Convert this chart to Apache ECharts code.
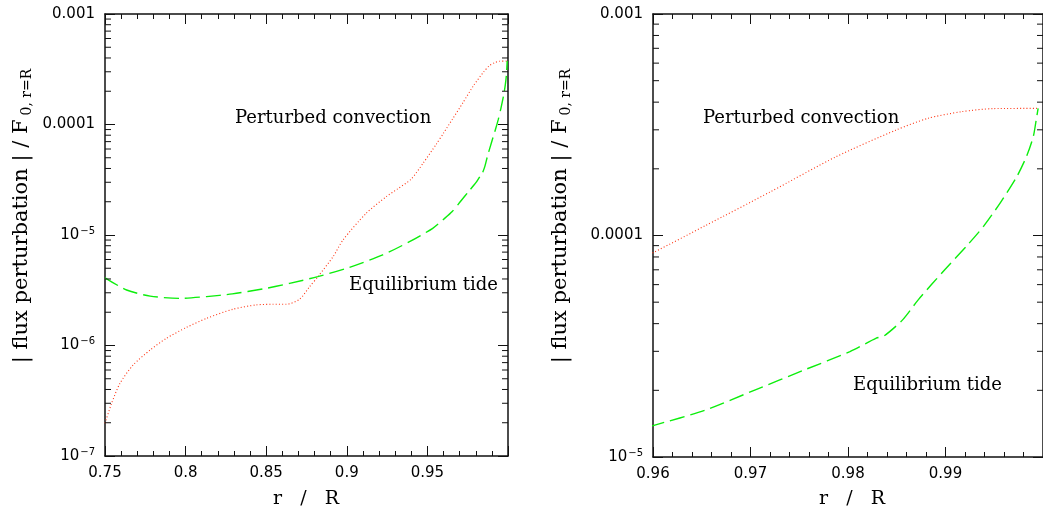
<!DOCTYPE html>
<html><head><meta charset="utf-8">
<script src="https://cdn.jsdelivr.net/npm/echarts@6/dist/echarts.min.js"></script>
<style>html,body{margin:0;padding:0;background:#fff}#c{width:1043px;height:514px}</style>
</head><body><div id="c"></div>
<script>
// ---- data ----
const convR = [0.75, 0.7541, 0.7593, 0.7675, 0.778, 0.788, 0.8006, 0.813, 0.8294, 0.8439, 0.8542, 0.8625, 0.8707, 0.8769, 0.8821, 0.8916, 0.8976, 0.912, 0.9244, 0.9316, 0.9399, 0.9475, 0.9554, 0.9601, 0.9654, 0.9721, 0.9788, 0.9849, 0.9882, 0.9916, 0.9949, 0.9993, 0.9995];
const convV = [1.98e-7, 3.0e-7, 4.55e-7, 6.67e-7, 9.1e-7, 1.16e-6, 1.46e-6, 1.76e-6, 2.13e-6, 2.33e-6, 2.36e-6, 2.36e-6, 2.62e-6, 3.4e-6, 4.2e-6, 6.4e-6, 9.0e-6, 1.57e-5, 2.22e-5, 2.62e-5, 3.2e-5, 4.5e-5, 6.6e-5, 8.4e-5, 1.11e-4, 1.58e-4, 2.27e-4, 2.99e-4, 3.38e-4, 3.62e-4, 3.74e-4, 3.75e-4, 3.76e-4];
const tideR = [0.75, 0.7634, 0.778, 0.7964, 0.813, 0.829, 0.848, 0.8645, 0.882, 0.9017, 0.9223, 0.9389, 0.9533, 0.9601, 0.9654, 0.9705, 0.9755, 0.9802, 0.9829, 0.9837, 0.9856, 0.9872, 0.9899, 0.9923, 0.9939, 0.9956, 0.9973, 0.9983, 0.999, 0.9993, 0.9995];
const tideV = [4.1e-6, 3.18e-6, 2.8e-6, 2.67e-6, 2.77e-6, 2.93e-6, 3.25e-6, 3.65e-6, 4.2e-6, 5.1e-6, 6.6e-6, 8.7e-6, 1.15e-5, 1.39e-5, 1.63e-5, 2.01e-5, 2.47e-5, 2.99e-5, 3.44e-5, 3.52e-5, 4.16e-5, 5.12e-5, 6.99e-5, 9.1e-5, 1.10e-4, 1.40e-4, 1.84e-4, 2.27e-4, 2.79e-4, 3.32e-4, 3.75e-4];

const leftXTicks = [0.75, 0.8, 0.85, 0.9, 0.95];
const rightXTicks = [0.96, 0.97, 0.98, 0.99];
const leftXRange = [0.75, 1.0];
const rightXRange = [0.96, 1.0];
const leftYRange = [1e-7, 1e-3];
const rightYRange = [1e-5, 1e-3];
const minorMult = [2, 3, 4, 5, 6, 7, 8, 9];

const labelConv = 'Perturbed convection';
const labelTide = 'Equilibrium tide';
const xTitle = 'r   /   R';
const yTitleMain = '| flux perturbation | / F';
const yTitleSub = '0, r=R';

// ---- chart ----
const chart = echarts.init(document.getElementById('c'), null, {renderer: 'canvas'});
const AX = '#111';
const tickFont = {fontFamily: 'DejaVu Sans', fontSize: 15, color: '#000'};

function yFmt(v) {
  const e = Math.round(Math.log10(v));
  if (e >= -4) return e === -3 ? '0.001' : '0.0001';
  return '10{sup|\u2212' + (-e) + '}';
}
function xFmt(ticks) {
  return function (v) {
    for (const t of ticks) if (Math.abs(t - v) < 1e-9) return String(t);
    return '';
  };
}
function minorData(range, x0) {
  const out = [];
  const e0 = Math.round(Math.log10(range[0])), e1 = Math.round(Math.log10(range[1]));
  for (let e = e0; e < e1; e++) for (const m of minorMult) out.push([x0, m * Math.pow(10, e)]);
  return out;
}
function mkX(grid, range, ticks, interval, pos) {
  return {
    type: 'value', gridIndex: grid, min: range[0], max: range[1], interval: interval, position: pos,
    axisLine: {show: true, onZero: false, lineStyle: {color: AX, width: 1.5}},
    axisTick: {show: true, inside: true, length: 10, lineStyle: {color: AX, width: 1}},
    minorTick: {show: true, splitNumber: 5, length: 5, lineStyle: {color: AX, width: 1}},
    splitLine: {show: false}, minorSplitLine: {show: false},
    axisLabel: pos === 'bottom' ? Object.assign({show: true, margin: 10, formatter: xFmt(ticks), showMaxLabel: false}, tickFont) : {show: false}
  };
}
function mkY(grid, range, pos) {
  return {
    type: 'log', logBase: 10, gridIndex: grid, min: range[0], max: range[1], position: pos,
    axisLine: {show: true, onZero: false, lineStyle: {color: AX, width: 1.5}},
    axisTick: {show: true, inside: true, length: 10, lineStyle: {color: AX, width: 1}},
    splitLine: {show: false},
    axisLabel: pos === 'left' ? Object.assign({show: true, margin: 10, formatter: yFmt,
      rich: {sup: {fontFamily: 'DejaVu Sans', fontSize: 10, verticalAlign: 'top', padding: [0, 0, 8, 1], color: '#000'}}}, tickFont) : {show: false}
  };
}
function lineSeries(xi, yi, R, V, color, dash, width) {
  return {
    type: 'line', xAxisIndex: xi, yAxisIndex: yi, showSymbol: false, symbol: 'none', smooth: 0.25,
    data: R.map((r, i) => [r, V[i]]), clip: true, silent: true,
    lineStyle: {color: color, width: width, type: dash}
  };
}
function minorSeries(xi, yi, xRange, yRange) {
  return {
    type: 'custom', xAxisIndex: xi, yAxisIndex: yi, silent: true, z: 5,
    data: minorData(yRange, xRange[0]),
    renderItem: function (params, api) {
      const v = api.value(1);
      const a = api.coord([xRange[0], v]);
      const b = api.coord([xRange[1], v]);
      return {type: 'group', children: [
        {type: 'line', shape: {x1: a[0], y1: a[1], x2: a[0] + 6, y2: a[1]}, style: {stroke: AX, lineWidth: 1}},
        {type: 'line', shape: {x1: b[0], y1: b[1], x2: b[0] - 6, y2: b[1]}, style: {stroke: AX, lineWidth: 1}}
      ]};
    }
  };
}
const RED = '#ff3311', GREEN = '#0cee0c';
const DOT = [1, 2.2], DASH = [15, 6];

function txt(x, y, s, size, align) {
  return {type: 'text', x: x, y: y, z: 10, style: {text: s, fontFamily: 'DejaVu Serif', fontSize: size, fill: '#000',
    align: align || 'left', verticalAlign: 'middle', textAlign: align || 'left', textVerticalAlign: 'middle'}};
}
function ytitle(x, y) {
  return {type: 'text', x: x, y: y, rotation: Math.PI / 2, z: 10,
    style: {text: yTitleMain + '{sub|' + yTitleSub + '}', fontFamily: 'DejaVu Serif', fontSize: 21, fill: '#000',
      align: 'center', verticalAlign: 'middle', textAlign: 'center', textVerticalAlign: 'middle',
      rich: {sub: {fontFamily: 'DejaVu Serif', fontSize: 14, fill: '#000', color: '#000', verticalAlign: 'bottom', padding: [10, 0, 0, 4]}}}};
}

const option = {
  animation: false,
  backgroundColor: '#fff',
  grid: [
    {left: 105, right: 535, top: 14, bottom: 58, containLabel: false},
    {left: 653, right: -7, top: 14, bottom: 57, containLabel: false}
  ],
  xAxis: [
    mkX(0, leftXRange, leftXTicks, 0.05, 'bottom'),
    mkX(0, leftXRange, leftXTicks, 0.05, 'top'),
    mkX(1, rightXRange, rightXTicks, 0.01, 'bottom'),
    mkX(1, rightXRange, rightXTicks, 0.01, 'top')
  ],
  yAxis: [
    mkY(0, leftYRange, 'left'),
    mkY(0, leftYRange, 'right'),
    mkY(1, rightYRange, 'left'),
    mkY(1, rightYRange, 'right')
  ],
  series: [
    lineSeries(0, 0, convR, convV, RED, DOT, 1.1),
    lineSeries(0, 0, tideR, tideV, GREEN, DASH, 1.4),
    lineSeries(2, 2, convR, convV, RED, DOT, 1.1),
    lineSeries(2, 2, tideR, tideV, GREEN, DASH, 1.4),
    minorSeries(0, 0, leftXRange, leftYRange),
    minorSeries(2, 2, rightXRange, rightYRange)
  ],
  graphic: [
    txt(235, 118, labelConv, 18),
    txt(349, 285, labelTide, 18),
    txt(703, 118, labelConv, 18),
    txt(853, 385, labelTide, 18),
    txt(306, 499, xTitle, 19, 'center'),
    txt(852, 499, xTitle, 19, 'center'),
    ytitle(22, 216),
    ytitle(561, 216)
  ]
};
chart.setOption(option);
</script></body></html>
